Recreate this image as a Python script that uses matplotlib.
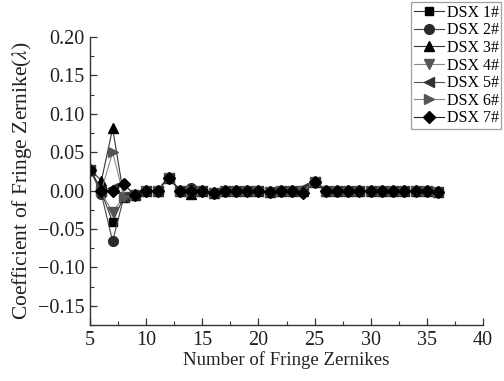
import matplotlib
matplotlib.use("Agg")
import matplotlib.pyplot as plt
from matplotlib.ticker import MultipleLocator

plt.rcParams['font.family'] = ['Liberation Serif', 'DejaVu Serif']
plt.rcParams['mathtext.fontset'] = 'stix'

terms = list(range(5, 37))

# shared tail of the coefficients (terms 9..36)
tail = [-0.006, 0.0, 0.0, 0.017, 0.0, 0.0, 0.0, -0.003, 0.0, 0.0, 0.0, 0.0,
        -0.002, 0.0, 0.0, 0.0, 0.011, 0.0, 0.0, 0.0, 0.0, 0.0, 0.0, 0.0,
        0.0, 0.0, 0.0, -0.002]

dsx1 = [0.027, -0.002, -0.041, -0.008] + tail
dsx2 = [0.027, -0.005, -0.066, -0.008] + tail
dsx3 = [0.027, 0.013, 0.081, -0.008] + tail
dsx4 = [0.027, -0.003, -0.028, -0.008] + tail
dsx5 = [0.027, 0.0, 0.004, -0.008] + tail
dsx6 = [0.027, 0.0, 0.050, -0.008] + tail
dsx7 = [0.027, 0.0, 0.0, 0.008] + tail

# per-series deviations at term 14 and 24
dsx2[14 - 5] = 0.004
dsx3[14 - 5] = -0.005
dsx5[24 - 5] = 0.003
dsx7[24 - 5] = -0.003

labels = ['DSX 1#', 'DSX 2#', 'DSX 3#', 'DSX 4#', 'DSX 5#', 'DSX 6#', 'DSX 7#']
series = [dsx1, dsx2, dsx3, dsx4, dsx5, dsx6, dsx7]
markers = ['s', 'o', '^', 'v', '<', '>', 'D']
mcolors = ['#000000', '#2a2a2a', '#000000', '#555555', '#333333', '#555555', '#000000']
lcolors = ['#333333', '#444444', '#333333', '#888888', '#555555', '#888888', '#222222']
msizes = [6, 7, 7, 7, 7, 7, 6]

fig = plt.figure(figsize=(5.04, 3.81), dpi=100)
ax = fig.add_axes([0.179, 0.147, 0.779, 0.756])

for y, lab, m, mc, lc, ms in zip(series, labels, markers, mcolors, lcolors, msizes):
    ax.plot(terms, y, marker=m, color=lc, markerfacecolor=mc, markeredgecolor=mc,
            markersize=ms, linewidth=0.8, label=lab)

ax.set_xlim(5, 40)
ax.set_ylim(-0.175, 0.20)
ax.xaxis.set_major_locator(MultipleLocator(5))
ax.xaxis.set_minor_locator(MultipleLocator(2.5))
ax.yaxis.set_major_locator(MultipleLocator(0.05))
ax.yaxis.set_minor_locator(MultipleLocator(0.025))
ax.yaxis.set_major_formatter(matplotlib.ticker.FuncFormatter(
    lambda v, p: ('\u2212' if v < -1e-9 else '') + f'{abs(v):.2f}'))

ax.spines['top'].set_visible(False)
ax.spines['right'].set_visible(False)
for s in ('left', 'bottom'):
    ax.spines[s].set_color('#333333')
    ax.spines[s].set_linewidth(1.0)
ax.tick_params(which='major', direction='in', length=5, width=0.9, labelsize=14.5, colors='#333333',
               labelcolor='#222222', pad=4)
ax.tick_params(which='minor', direction='in', length=3, width=0.8, colors='#333333')

ax.set_xlabel('Number of Fringe Zernikes', fontsize=13.5, color='#222222', labelpad=1)
ax.set_ylabel(r'Coefficient of Fringe Zernike($\lambda$)', fontsize=15.5, color='#222222', labelpad=3)

leg = ax.legend(loc='upper left', bbox_to_anchor=(0.818, 1.12), fontsize=11.5,
                frameon=True, fancybox=False, edgecolor='#888888', handlelength=1.9,
                handletextpad=0.15, borderpad=0.15, labelspacing=0.1, borderaxespad=0)
leg.get_frame().set_linewidth(0.9)

fig.savefig('out.png', dpi=100)
